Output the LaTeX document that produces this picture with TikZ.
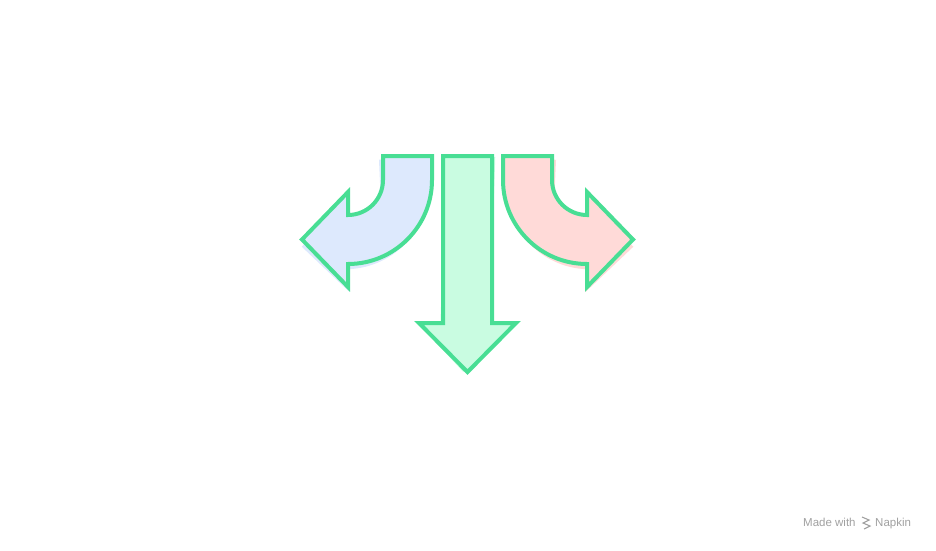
\documentclass[tikz,border=0pt]{standalone}
\usepackage{fontspec}
\setmainfont{Liberation Sans}
\usepackage{tikz}
\usetikzlibrary{calc}

\definecolor{outline}{RGB}{72,222,148}
\definecolor{leftfill}{RGB}{221,233,253}
\definecolor{downfill}{RGB}{201,252,225}
\definecolor{rightfill}{RGB}{255,218,216}
\definecolor{creditgray}{RGB}{160,160,160}

\begin{document}
\begin{tikzpicture}[x=1pt, y=1pt,
    turn/.style={draw=outline, line width=4pt, line join=miter},
    sketch/.style={rotate around={2.5:(467,300)}},
    credit/.style={text=creditgray, font=\fontsize{11.5}{12}\selectfont, inner sep=0pt}]
            \useasboundingbox (0,0) rectangle (936,550);
            % left arrow
            \fill[leftfill, sketch] (432,394) -- (432,370) arc[start angle=0, end angle=-90, radius=84]
                -- (348,263) -- (302,310.5) -- (348,358) -- (348,335)
                arc[start angle=-90, end angle=0, radius=35] -- (383,394) -- cycle;
            \draw[turn, fill=leftfill] (432,394) -- (432,370) arc[start angle=0, end angle=-90, radius=84]
                -- (348,263) -- (302,310.5) -- (348,358) -- (348,335)
                arc[start angle=-90, end angle=0, radius=35] -- (383,394) -- cycle;
            % down arrow
            \fill[downfill, rotate around={-2:(467,300)}] (443,394) -- (443,227) -- (419,227) -- (467.5,178)
                -- (516,227) -- (492,227) -- (492,394) -- cycle;
            \draw[turn, fill=downfill] (443,394) -- (443,227) -- (419,227) -- (467.5,178)
                -- (516,227) -- (492,227) -- (492,394) -- cycle;
            % right arrow
            \fill[rightfill, rotate around={-2.5:(467,300)}] (503,394) -- (503,370) arc[start angle=180, end angle=270, radius=84]
                -- (587,263) -- (633,310.5) -- (587,358) -- (587,335)
                arc[start angle=270, end angle=180, radius=35] -- (552,394) -- cycle;
            \draw[turn, fill=rightfill] (503,394) -- (503,370) arc[start angle=180, end angle=270, radius=84]
                -- (587,263) -- (633,310.5) -- (587,358) -- (587,335)
                arc[start angle=270, end angle=180, radius=35] -- (552,394) -- cycle;
            % credit
            \node[credit, anchor=base west] (made) at (803,24) {Made with};
            \node[credit, anchor=base west] (napkin) at (875,24) {Napkin};
            \draw[creditgray, line width=1.1pt] (862,33) -- (869,30) -- (863,27) -- (870,24) -- (864,21);
        \end{tikzpicture}
\end{document}
